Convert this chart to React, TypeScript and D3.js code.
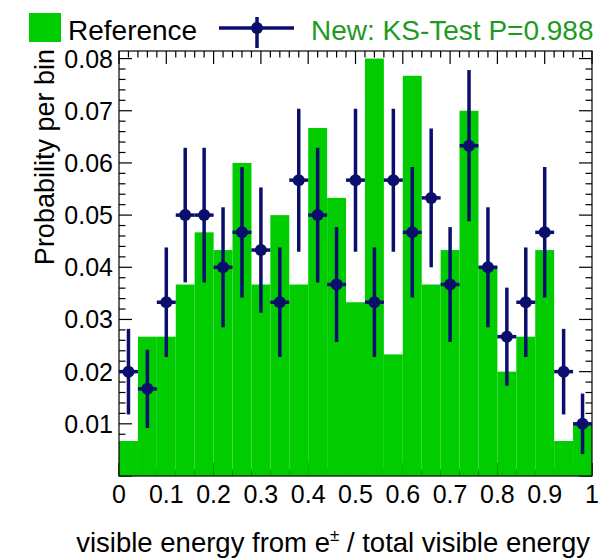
import React from "react";
import * as d3 from "d3";

// Bin lower edges (25 bins of width 0.04)
const binLow = [0, 0.04, 0.08, 0.12, 0.16, 0.2, 0.24, 0.28, 0.32, 0.36, 0.4, 0.44, 0.48, 0.52, 0.56, 0.6, 0.64, 0.68, 0.72, 0.76, 0.8, 0.84, 0.88, 0.92, 0.96];
const binWidth = 0.04;

// Reference histogram (probability per bin)
const refProb = [0.0067, 0.0267, 0.0267, 0.0367, 0.0467, 0.0433, 0.06, 0.0367, 0.05, 0.0367, 0.0667, 0.0533, 0.0333, 0.08, 0.0233, 0.0767, 0.0367, 0.0433, 0.07, 0.04, 0.02, 0.0267, 0.0433, 0.0067, 0.01];

// New sample points and errors
const newProb = [0.02, 0.0167, 0.0333, 0.05, 0.05, 0.04, 0.0467, 0.0433, 0.0333, 0.0567, 0.05, 0.0367, 0.0567, 0.0333, 0.0567, 0.0467, 0.0533, 0.0367, 0.0633, 0.04, 0.0267, 0.0333, 0.0467, 0.02, 0.01];
const newErr = [0.0082, 0.0075, 0.0105, 0.0129, 0.0129, 0.0115, 0.0125, 0.012, 0.0105, 0.0137, 0.0129, 0.011, 0.0137, 0.0105, 0.0137, 0.0125, 0.0133, 0.011, 0.0145, 0.0115, 0.0094, 0.0105, 0.0125, 0.0082, 0.0058];

const xTickLabels = ["0", "0.1", "0.2", "0.3", "0.4", "0.5", "0.6", "0.7", "0.8", "0.9", "1"];
const yTickLabels = ["0.01", "0.02", "0.03", "0.04", "0.05", "0.06", "0.07", "0.08"];

const legendRef = "Reference";
const legendNew = "New: KS-Test P=0.988";

const W = 599;
const H = 558;
const L = 119, R = 592, T = 51, B = 476;
const GREEN = "#00cc00";
const NAVY = "#0a0f6e";
const FONT = "'Liberation Sans', Arial, Helvetica, sans-serif";

export default function App() {
  const x = d3.scaleLinear().domain([0, 1]).range([L, R]);
  const y = d3.scaleLinear().domain([0, 0.08145]).range([B, T]);

  const xMajor = xTickLabels.map((s) => +s);
  const xMinor = d3.range(0, 1.0001, 0.02);
  const yMajor = yTickLabels.map((s) => +s);
  const yMinor = d3.range(0, 0.0815, 0.002);
  const majLen = 13, minLen = 6.5;

  return (
    <svg width={W} height={H} style={{ position: "absolute", left: 0, top: 0, background: "#fff" }} fontFamily={FONT}>
      <rect x={0} y={0} width={W} height={H} fill="#fff" />
      {/* ticks (drawn beneath histogram) */}
      <g stroke="#000" strokeWidth={1.2}>
        {xMinor.map((v, i) => {
          const isMaj = Math.abs(v * 10 - Math.round(v * 10)) < 1e-6;
          const len = isMaj ? majLen : minLen;
          return (
            <g key={"xt" + i}>
              <line x1={x(v)} x2={x(v)} y1={T} y2={T + len} />
              <line x1={x(v)} x2={x(v)} y1={B} y2={B - len} />
            </g>
          );
        })}
        {yMinor.map((v, i) => {
          const isMaj = Math.abs(v * 100 - Math.round(v * 100)) < 1e-6;
          const len = isMaj ? majLen : minLen;
          return (
            <g key={"yt" + i}>
              <line x1={L} x2={L + len} y1={y(v)} y2={y(v)} />
              <line x1={R} x2={R - len} y1={y(v)} y2={y(v)} />
            </g>
          );
        })}
      </g>
      {/* reference histogram */}
      <g fill={GREEN}>
        {binLow.map((b, i) => (
          <rect key={"r" + i} x={x(b)} width={x(b + binWidth) - x(b)} y={y(refProb[i])} height={B - y(refProb[i])} />
        ))}
      </g>
      {/* frame */}
      <rect x={L} y={T} width={R - L} height={B - T} fill="none" stroke="#000" strokeWidth={1.2} />
      {/* new points */}
      <g stroke={NAVY} strokeWidth={3.5} fill={NAVY}>
        {binLow.map((b, i) => {
          const cx = x(b + binWidth / 2);
          const cy = y(newProb[i]);
          return (
            <g key={"p" + i}>
              <line x1={cx} x2={cx} y1={y(newProb[i] - newErr[i])} y2={y(newProb[i] + newErr[i])} />
              <line x1={x(b)} x2={x(b + binWidth)} y1={cy} y2={cy} />
              <circle cx={cx} cy={cy} r={6} stroke="none" />
            </g>
          );
        })}
      </g>
      {/* tick labels */}
      <g fontSize={25} fill="#000">
        {xMajor.map((v, i) => (
          <text key={"xl" + i} x={x(v)} y={503} textAnchor="middle">{xTickLabels[i]}</text>
        ))}
        {yMajor.map((v, i) => (
          <text key={"yl" + i} x={113} y={y(v)} dy="0.36em" textAnchor="end">{yTickLabels[i]}</text>
        ))}
      </g>
      {/* axis titles */}
      <text x={R - 2} y={552} fontSize={27.5} textAnchor="end" fill="#000">
        visible energy from e<tspan dy={-11} fontSize={17}>±</tspan><tspan dy={11}> / total visible energy</tspan>
      </text>
      <text transform={`translate(54,${T - 2}) rotate(-90)`} fontSize={27} textAnchor="end" fill="#000">Probability per bin</text>
      {/* legend */}
      <rect x={29} y={13} width={32} height={29} fill={GREEN} />
      <text x={68} y={40} fontSize={28} fill="#000">{legendRef}</text>
      <g stroke={NAVY} strokeWidth={3.5}>
        <line x1={219} x2={294} y1={28} y2={28} />
        <line x1={257} x2={257} y1={17} y2={48} />
      </g>
      <circle cx={257} cy={28} r={6} fill={NAVY} />
      <text x={311} y={40} fontSize={28} fill="#1f9a1f">{legendNew}</text>
    </svg>
  );
}
